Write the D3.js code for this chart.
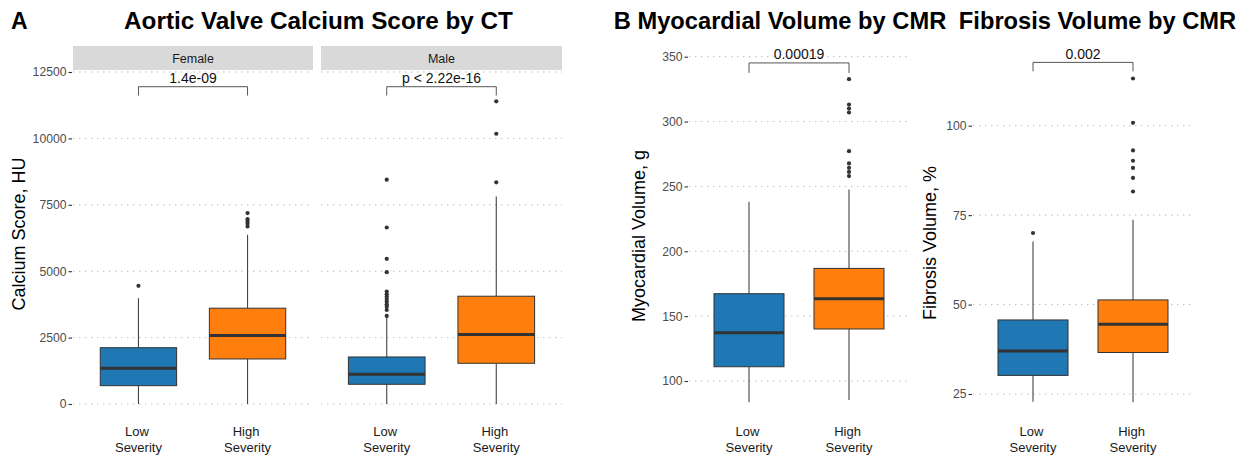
<!DOCTYPE html>
<html>
<head>
<meta charset="utf-8">
<script src="https://cdn.jsdelivr.net/npm/d3@7"></script>
<style>
  html, body { margin: 0; padding: 0; background: #fff; }
  text { font-family: "Liberation Sans", Arial, sans-serif; }
</style>
</head>
<body>
<svg id="viz" width="1256" height="460"></svg>
<script>
// data
var severity = ["Low Severity", "High Severity"];
var colors = ["#1f77b4", "#ff7f0e"];

// [lower whisker, q1, median, q3, upper whisker]
var calcFemale = [[0, 690, 1345, 2120, 3985], [0, 1696, 2575, 3607, 6370]];
var calcFemaleOut = [[4448], [6683, 6785, 6870, 6960, 7188]];
var calcMale = [[0, 742, 1119, 1771, 3260], [0, 1533, 2613, 4058, 7813]];
var calcMaleOut = [[3317, 3543, 3667, 3757, 3857, 3958, 4045, 4133, 4233, 4963, 5466, 6646, 8446],
                   [8345, 10176, 11395]];
var myoStats = [[83.6, 111.0, 137.2, 167.3, 238.1], [85.4, 140.1, 163.4, 186.8, 247.6]];
var myoOut = [[], [258, 261.2, 264.3, 267.7, 277.2, 307, 310, 313.1, 332.7]];
var fibStats = [[22.8, 30.2, 37.0, 45.7, 67.6], [22.7, 36.6, 44.5, 51.3, 73.7]];
var fibOut = [[70.0], [81.6, 85.4, 88.2, 90.2, 93.1, 100.8, 113.2]];

var calcTicks = [0, 2500, 5000, 7500, 10000, 12500];
var myoTicks = [100, 150, 200, 250, 300, 350];
var fibTicks = [25, 50, 75, 100];

var calcP = ["1.4e-09", "p < 2.22e-16"];
var myoP = "0.00019";
var fibP = "0.002";

var svg = d3.select("#viz");

function drawPanel(g, x0, x1, y, ticks, stats, outs, pval, brTop, brEnd, showAxis) {
    var x = d3.scalePoint().domain(severity).range([x0, x1]).padding(0.6);
    var bw = x.step() * 0.7;

    // grid
    g.append("g").selectAll("line").data(ticks).enter().append("line")
        .attr("x1", x0).attr("x2", x1)
        .attr("y1", function(d) { return y(d); }).attr("y2", function(d) { return y(d); })
        .attr("stroke", "#bdbdbd").attr("stroke-width", 1)
        .attr("stroke-dasharray", "1.5,4.5");

    if (showAxis) {
        var ax = g.append("g").attr("transform", "translate(" + (x0 - 1) + ",0)")
            .call(d3.axisLeft(y).tickValues(ticks).tickFormat(d3.format("d"))
                .tickSize(3.5).tickPadding(2));
        ax.select(".domain").remove();
        ax.selectAll(".tick line").attr("stroke", "#333").attr("stroke-width", 1.1);
        ax.selectAll(".tick text").attr("fill", "#4d4d4d").style("font-size", "12.2px")
            .style("font-family", "Liberation Sans, Arial, sans-serif");
    }

    var box = g.append("g").selectAll("g").data(severity).enter().append("g");
    box.each(function(d, i) {
        var s = stats[i], cx = x(d), b = d3.select(this);
        b.append("line").attr("x1", cx).attr("x2", cx)
            .attr("y1", y(s[0])).attr("y2", y(s[1]))
            .attr("stroke", "#444").attr("stroke-width", 1.1);
        b.append("line").attr("x1", cx).attr("x2", cx)
            .attr("y1", y(s[3])).attr("y2", y(s[4]))
            .attr("stroke", "#444").attr("stroke-width", 1.1);
        b.append("rect").attr("x", cx - bw / 2).attr("width", bw)
            .attr("y", y(s[3])).attr("height", y(s[1]) - y(s[3]))
            .attr("fill", colors[i]).attr("stroke", "#333").attr("stroke-width", 1);
        b.append("line").attr("x1", cx - bw / 2).attr("x2", cx + bw / 2)
            .attr("y1", y(s[2])).attr("y2", y(s[2]))
            .attr("stroke", "#333").attr("stroke-width", 3);
        b.selectAll("circle").data(outs[i]).enter().append("circle")
            .attr("cx", cx).attr("cy", function(v) { return y(v); })
            .attr("r", 2.1).attr("fill", "#333");

        var lab = b.append("text").attr("text-anchor", "middle")
            .attr("fill", "#1a1a1a").style("font-size", "13px");
        lab.append("tspan").attr("x", cx - 1.5).attr("y", 436).text(d.split(" ")[0]);
        lab.append("tspan").attr("x", cx).attr("y", 452).text(d.split(" ")[1]);
    });

    // significance bracket
    var xa = x(severity[0]), xb = x(severity[1]);
    g.append("path")
        .attr("d", "M" + xa + "," + y(brEnd) + "V" + y(brTop) + "H" + xb + "V" + y(brEnd))
        .attr("fill", "none").attr("stroke", "#555").attr("stroke-width", 1);
    g.append("text").attr("x", (xa + xb) / 2).attr("y", y(brTop) - 3.5)
        .attr("text-anchor", "middle").attr("fill", "#111").style("font-size", "14px")
        .text(pval);
}

function title(x, yy, txt, size, anchor) {
    svg.append("text").attr("x", x).attr("y", yy).attr("text-anchor", anchor || "middle")
        .style("font-size", size + "px").style("font-weight", "bold").attr("fill", "#000").text(txt);
}

function yLabel(x, yy, txt) {
    svg.append("text").attr("transform", "translate(" + x + "," + yy + ") rotate(-90)")
        .attr("text-anchor", "middle").style("font-size", "18px").attr("fill", "#000").text(txt);
}

// Panel A
var yCalc = d3.scaleLinear().domain([0, 12500]).range([404, 72]);
title(11, 29, "A", 23, "start");
title(318.5, 29, "Aortic Valve Calcium Score by CT", 24.3);
yLabel(25, 234, "Calcium Score, HU");

var facets = [["Female", 73, 313, calcFemale, calcFemaleOut, calcP[0]],
              ["Male", 321, 562, calcMale, calcMaleOut, calcP[1]]];
facets.forEach(function(f, i) {
    var g = svg.append("g");
    g.append("rect").attr("x", f[1]).attr("y", 46).attr("width", f[2] - f[1]).attr("height", 24)
        .attr("fill", "#d9d9d9");
    g.append("text").attr("x", (f[1] + f[2]) / 2).attr("y", 62.5).attr("text-anchor", "middle")
        .style("font-size", "12.5px").attr("fill", "#1a1a1a").text(f[0]);
    drawPanel(g, f[1], f[2], yCalc, calcTicks, f[3], f[4], f[5], 11946, 11615, i === 0);
});

// Panel B: myocardial volume
var yMyo = d3.scaleLinear().domain([100, 350]).range([381, 56.7]);
title(780, 29, "B Myocardial Volume by CMR", 23.7);
yLabel(645, 236, "Myocardial Volume, g");
drawPanel(svg.append("g"), 689, 909, yMyo, myoTicks, myoStats, myoOut, myoP, 345.2, 337.5, true);

// Panel B: fibrosis volume
var yFib = d3.scaleLinear().domain([25, 100]).range([394, 125.7]);
title(1097.5, 29, "Fibrosis Volume by CMR", 23.7);
yLabel(936, 243, "Fibrosis Volume, %");
drawPanel(svg.append("g"), 973, 1193, yFib, fibTicks, fibStats, fibOut, fibP, 117.7, 115.2, true);
</script>
</body>
</html>
